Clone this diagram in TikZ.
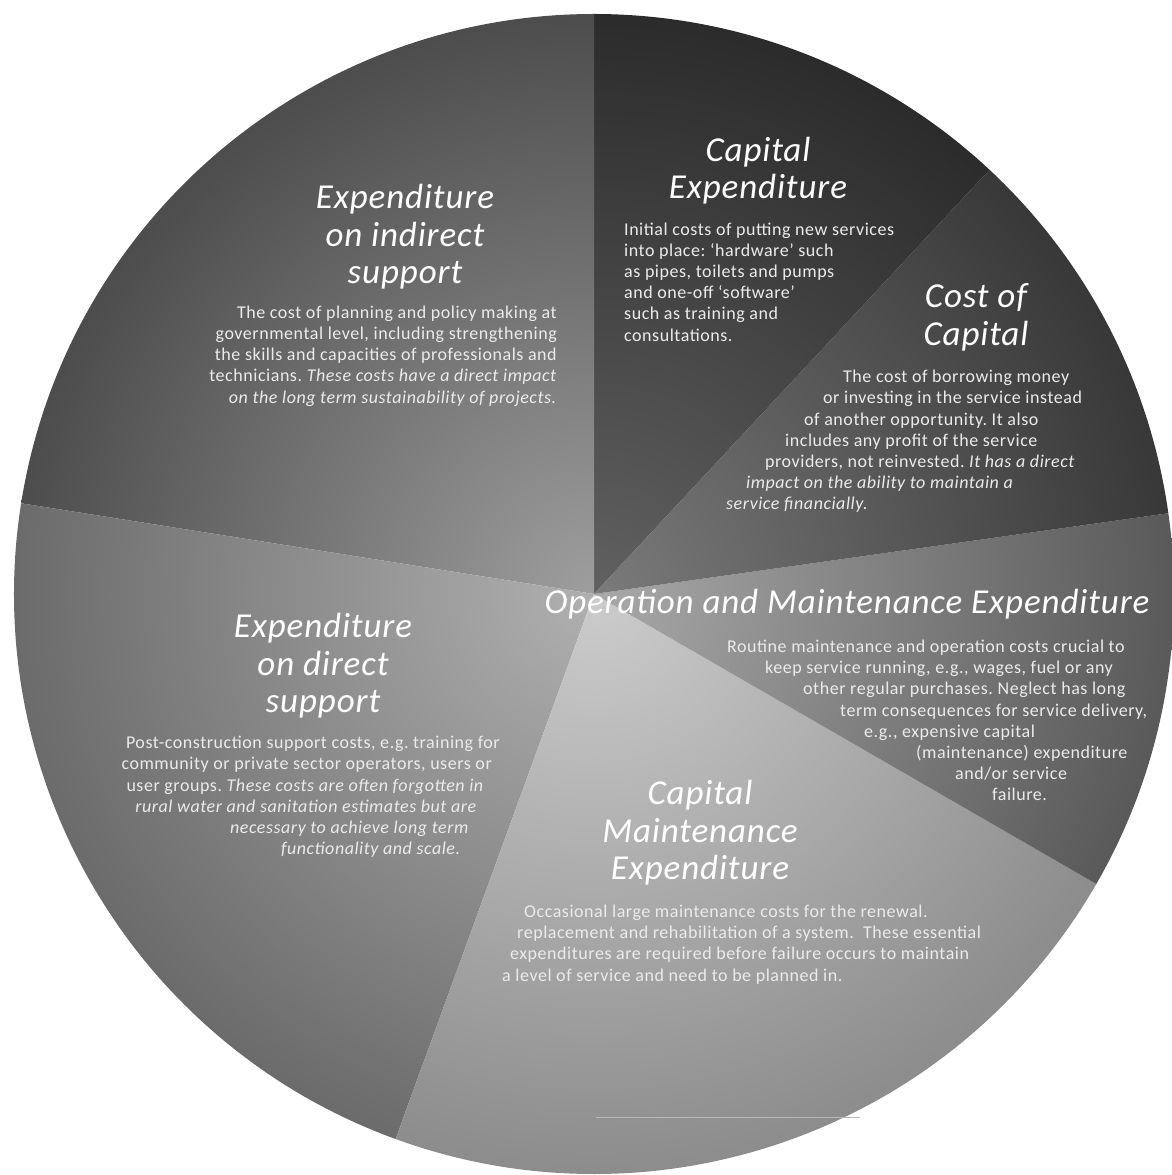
\documentclass[tikz,border=0pt]{standalone}
\usepackage{fontspec}
\setmainfont{Carlito}[LetterSpace=3]
\newfontfamily\headfont{Carlito}[LetterSpace=2.5]
\frenchspacing

\begin{document}
\begin{tikzpicture}[x=1pt,y=1pt,
  headtext/.style={text=white,align=center,inner sep=0pt,font=\headfont\itshape\fontsize{35}{37.5}\selectfont},
  bodytext/.style={text=black!8,inner sep=0pt,font=\fontsize{18}{21.2}\selectfont}]
\useasboundingbox (-594,-581) rectangle (578,594);
% slices: from/to angle, shade at the centre and at the rim
\foreach \a/\b/\ci/\co in {47/90/black!62/black!83, 90/171/black!38/black!70, 171/250/black!31/black!58,
                           250/330/black!20/black!45, 330/368/black!34/black!65, 8/47/black!52/black!78} {
  \begin{scope}
    \clip (0,0) -- (\a:580pt) arc (\a:\b:580pt) -- cycle;
    \shade[inner color=\ci,outer color=\co] (0,0) circle (580pt);
  \end{scope}
}
\draw[black!28,line width=0.8pt] (2,-523) -- (266,-523);
% indirect support
\node[headtext] (indTitle) at (-189,357) {Expenditure\\on indirect\\support};
\node[bodytext,anchor=east,align=right] (indText) at (-37,238)
  {The cost of planning and policy making at\\governmental level, including strengthening\\the skills and capacities of professionals and\\technicians. \textit{These costs have a direct impact}\\\textit{on the long term sustainability of projects.}};
% capital expenditure
\node[headtext] (capexTitle) at (164,423.5) {Capital\\Expenditure};
\node[bodytext,anchor=west,align=left] (capexText) at (30,312)
  {Initial costs of putting new services\\into place: ‘hardware’ such\\as pipes, toilets and pumps\\and one-off ‘software’\\such as training and\\consultations.};
% cost of capital
\node[headtext] (cocTitle) at (382,276.5) {Cost of\\Capital};
\node[bodytext,anchor=west,align=left] (cocText) at (132,152.5)
  {\hspace*{117pt}The cost of borrowing money\\\hspace*{97pt}or investing in the service instead\\\hspace*{78pt}of another opportunity. It also\\\hspace*{59pt}includes any profit of the service\\\hspace*{39pt}providers, not reinvested. \textit{It has a direct}\\\hspace*{20pt}\textit{impact on the ability to maintain a}\\\textit{service financially.}};
% operation and maintenance
\node[headtext] (omTitle) at (253,-10) {Operation and Maintenance Expenditure};
\node[bodytext,anchor=west,align=left] (omText) at (133,-126.5)
  {Routine maintenance and operation costs crucial to\\\hspace*{38pt}keep service running, e.g., wages, fuel or any\\\hspace*{76pt}other regular purchases. Neglect has long\\\hspace*{113pt}term consequences for service delivery,\\\hspace*{137pt}e.g., expensive capital\\\hspace*{189pt}(maintenance) expenditure\\\hspace*{228pt}and/or service\\\hspace*{265pt}failure.};
% capital maintenance
\node[headtext] (cmTitle) at (106,-239) {Capital\\Maintenance\\Expenditure};
\node[bodytext,anchor=west,align=left] (cmText) at (-92,-350.5)
  {\hspace*{22pt}Occasional large maintenance costs for the renewal.\\\hspace*{15pt}replacement and rehabilitation of a system.\ \ These essential\\\hspace*{8pt}expenditures are required before failure occurs to maintain\\a level of service and need to be planned in.};
% direct support
\node[headtext] (dirTitle) at (-271,-72) {Expenditure\\on direct\\support};
\node[bodytext,anchor=east,align=right] (dirText) at (-94,-203)
  {Post-construction support costs, e.g. training for\\community or private sector operators, users or\hspace*{8pt}\null\\user groups. \textit{These costs are often forgotten in}\hspace*{16pt}\null\\\textit{rural water and sanitation estimates but are}\hspace*{23pt}\null\\\textit{necessary to achieve long term}\hspace*{31pt}\null\\\textit{functionality and scale.}\hspace*{39pt}\null};
\end{tikzpicture}
\end{document}
